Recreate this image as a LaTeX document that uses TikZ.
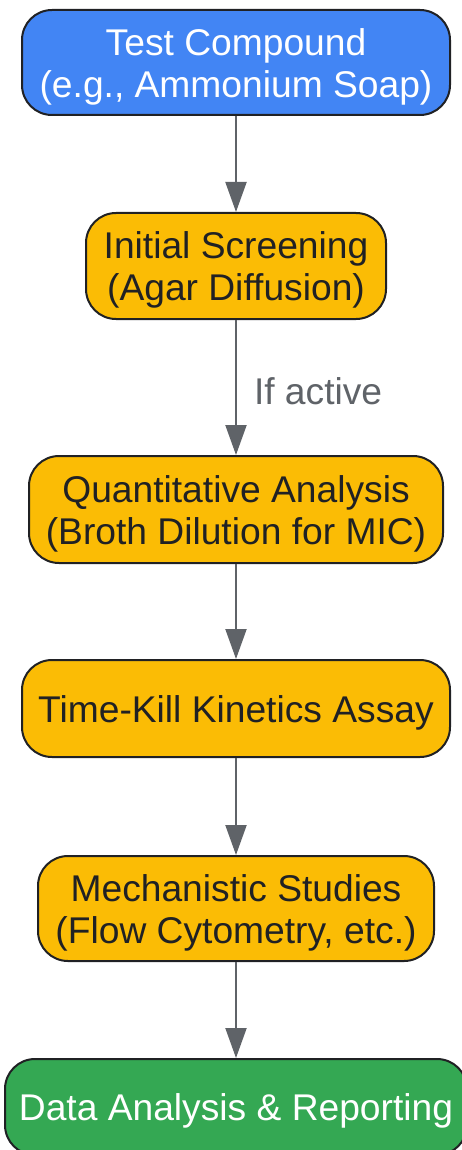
\documentclass[tikz,border=0pt]{standalone}
\usepackage{fontspec}
\setmainfont{Liberation Sans}
\usetikzlibrary{arrows.meta}
\definecolor{gblue}{HTML}{4285F4}
\definecolor{gorange}{HTML}{FBBC05}
\definecolor{ggreen}{HTML}{34A853}
\definecolor{gdark}{HTML}{202124}
\definecolor{ggray}{HTML}{5F6368}
\newcommand{\mytxt}[1]{\raisebox{-5.5pt}[\height][\depth]{\begin{tabular}{@{}c@{}}#1\end{tabular}}}
\tikzset{
  box/.style={draw=gdark, line width=2pt, rounded corners=30pt,
    inner sep=0pt, font=\fontsize{37.2}{42}\selectfont},
  bluebox/.style={box, fill=gblue, text=white},
  orangebox/.style={box, fill=gorange, text=gdark},
  greenbox/.style={box, fill=ggreen, text=white},
  flow/.style={draw=ggray, line width=2pt, -{Triangle[width=21pt,length=30pt]}},
  lbl/.style={text=ggray, font=\fontsize{37.2}{42}\selectfont, inner sep=0pt}
}
\begin{document}
\begin{tikzpicture}[x=1pt,y=-1pt]
\useasboundingbox (0,0) rectangle (462,1150);
\node[bluebox, minimum width=428pt, minimum height=105pt] (a) at (236,62.5)
  {\mytxt{Test Compound\\(e.g., Ammonium Soap)}};
\node[orangebox, minimum width=300pt, minimum height=106pt] (b) at (236,266)
  {\mytxt{Initial Screening\\(Agar Diffusion)}};
\node[orangebox, minimum width=414pt, minimum height=107pt] (c) at (236,509.5)
  {\mytxt{Quantitative Analysis\\(Broth Dilution for MIC)}};
\node[orangebox, minimum width=428pt, minimum height=97pt] (d) at (236,708.5)
  {\mytxt{Time-Kill Kinetics Assay}};
\node[orangebox, minimum width=396pt, minimum height=105pt] (e) at (236,908.5)
  {\mytxt{Mechanistic Studies\\(Flow Cytometry, etc.)}};
\node[greenbox, minimum width=462pt, minimum height=96pt] (f) at (236,1107)
  {\mytxt{Data Analysis \& Reporting}};
\draw[flow] (a) -- (b);
\draw[flow] (b) -- node[lbl, anchor=west, xshift=17pt, yshift=-4pt] (l) {If active} (c);
\draw[flow] (c) -- (d);
\draw[flow] (d) -- (e);
\draw[flow] (e) -- (f);
\end{tikzpicture}
\end{document}
